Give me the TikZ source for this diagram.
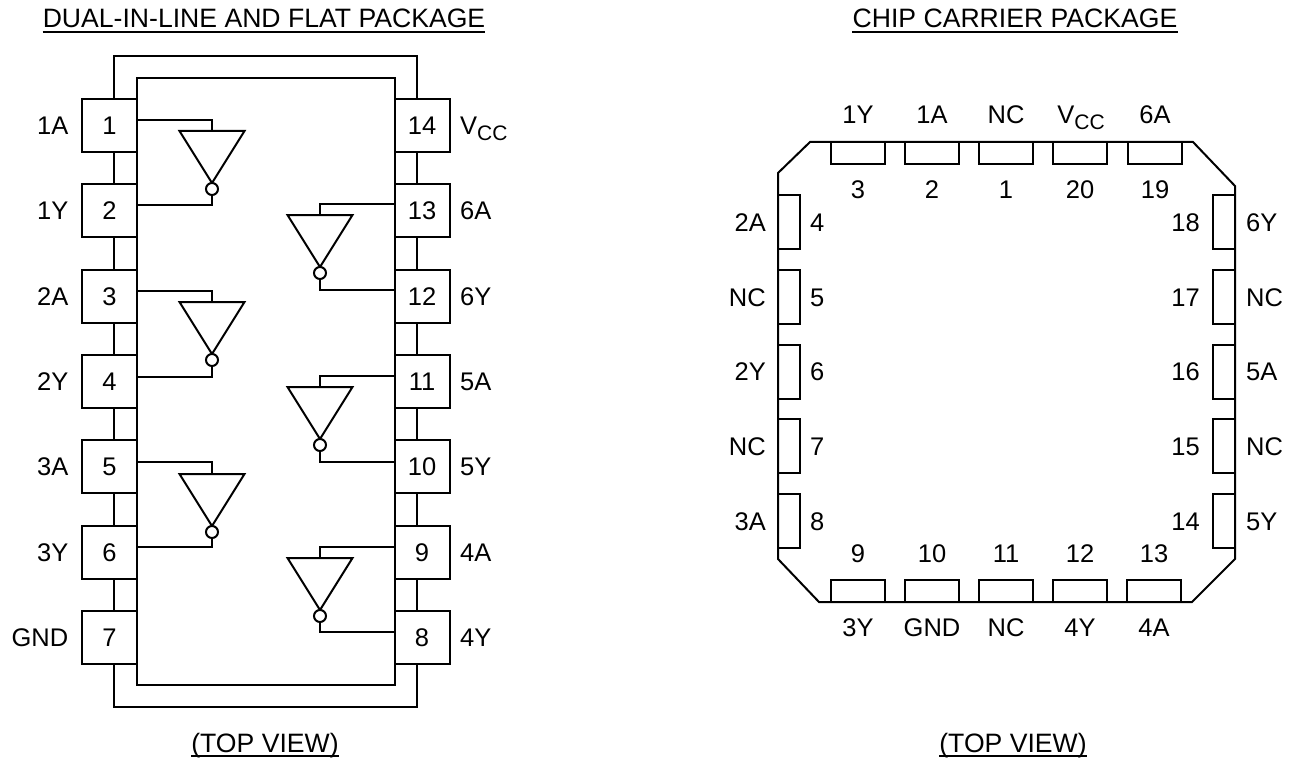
\documentclass[tikz,border=0pt]{standalone}
\usepackage{fontspec}
\setmainfont{Liberation Sans}
\newcommand{\lsize}{\fontsize{25.5}{27}\selectfont}
\newcommand{\tsize}{\fontsize{26.6}{28}\selectfont}
\newcommand{\vcc}{V\raisebox{-6pt}{\fontsize{21}{22}\selectfont CC}}
\tikzset{
  ln/.style={line width=2pt,black},
  lab/.style={font=\lsize,inner sep=0pt,text height=18.3pt,text depth=0pt},
  ttl/.style={font=\tsize,inner sep=0pt,text height=19pt,text depth=4pt,anchor=center},
  under/.style={line width=2.2pt},
  pin/.style={ln,draw,fill=white,font=\lsize,inner sep=0pt,minimum width=55pt,minimum height=53pt,text height=18.3pt,text depth=0pt},
  hpad/.style={ln,draw,inner sep=0pt,minimum width=54pt,minimum height=22pt},
  vpad/.style={ln,draw,inner sep=0pt,minimum width=22pt,minimum height=54pt},
  body/.style={ln,draw,inner sep=0pt,minimum width=258pt,minimum height=607pt},
  bub/.style={ln,draw,circle,fill=white,inner sep=0pt,minimum size=12pt},
}
\newcommand{\invgate}[6]{%
  \coordinate (#1tl) at (#2-32.5,#3);
  \coordinate (#1tr) at (#2+32.5,#3);
  \coordinate (#1ap) at (#2,#3+52);
  \coordinate (#1in) at (#2,#4);
  \coordinate (#1ou) at (#2,#5);
  \coordinate (#1top) at (#2,#3);
  \draw[ln,line join=miter] (#1tl) -- (#1tr) -- (#1ap) -- cycle;
  \node[bub] (#1b) at (#2,#3+58) {};
  \draw[ln] (#1top) -- (#1in) -- (#6.center |- #1in);
  \draw[ln] (#1b.south) -- (#1ou) -- (#6.center |- #1ou);
}
\begin{document}
\begin{tikzpicture}[x=1pt,y=-1pt]
\useasboundingbox (0,0) rectangle (1300,762);
\node[ttl] (t1) at (264,20.5) {DUAL-IN-LINE AND FLAT PACKAGE};
\node[ttl] (t2) at (1015,20.5) {CHIP CARRIER PACKAGE};
\node[ttl] (t3) at (265,744.5) {(TOP VIEW)};
\node[ttl] (t4) at (1013,744.5) {(TOP VIEW)};
\foreach \t in {t1,t2,t3,t4} \draw[under] (\t.south west) -- (\t.south east);
\node[body] (bd) at (266,381.5) {};
\coordinate (wt) at (114,56);
\coordinate (wb) at (114,707);
\foreach \n/\y in {1/125.5,2/210.8,3/296.2,4/381.5,5/466.8,6/552.2,7/637.5}
  \node[pin] (p\n) at (109.5,\y) {\n};
\foreach \n/\y in {14/125.5,13/210.8,12/296.2,11/381.5,10/466.8,9/552.2,8/637.5}
  \node[pin] (p\n) at (422,\y) {\n};
\foreach \a/\b in {1/2,2/3,3/4,4/5,5/6,6/7}
  \draw[ln] ([xshift=4.5pt]p\a.south) -- ([xshift=4.5pt]p\b.north);
\foreach \a/\b in {14/13,13/12,12/11,11/10,10/9,9/8}
  \draw[ln] ([xshift=-5pt]p\a.south) -- ([xshift=-5pt]p\b.north);
\draw[ln] ([xshift=4.5pt]p1.north) |- (wt) -| ([xshift=-5pt]p14.north);
\draw[ln] ([xshift=4.5pt]p7.south) |- (wb) -| ([xshift=-5pt]p8.south);
\coordinate (lw) at (137,0);
\coordinate (rw) at (395,0);
\invgate{a}{212}{131}{120}{205}{lw}
\invgate{b}{212}{302}{291}{377}{lw}
\invgate{c}{212}{474}{462}{547}{lw}
\invgate{d}{320}{215}{204}{290}{rw}
\invgate{e}{320}{387}{376}{462}{rw}
\invgate{f}{320}{558}{547}{632}{rw}
\foreach \s/\y in {1A/125.5,1Y/210.8,2A/296.2,2Y/381.5,3A/466.8,3Y/552.2,GND/637.5}
  \node[lab,anchor=east] (l\s) at (68.5,\y) {\s};
\foreach \s/\y in {6A/210.8,6Y/296.2,5A/381.5,5Y/466.8,4A/552.2,4Y/637.5}
  \node[lab,anchor=west] (r\s) at (460,\y) {\s};
\node[lab,anchor=west] (rvcc) at (460,125.5) {\vcc};
\draw[ln,line join=miter] (810,142) -- (1193,142) -- (1235,186) -- (1235,559) -- (1192,602) -- (819,602) -- (778,559) -- (778,173) -- cycle;
\foreach \n/\x/\s in {3/858/1Y,2/932/1A,1/1006/NC,19/1155/6A}
  \node[lab] (cl\n) at (\x,114) {\s};
\node[lab] (cl20) at (1081,114) {\vcc};
\foreach \n/\x in {3/858,2/932,1/1006,20/1080,19/1155}{
  \node[hpad] (c\n) at (\x,153) {};
  \node[lab] (cn\n) at (\x,189.5) {\n};
}
\foreach \n/\x/\s in {9/858/3Y,10/932/GND,11/1006/NC,12/1080/4Y,13/1154/4A}{
  \node[hpad] (c\n) at (\x,591) {};
  \node[lab] (cn\n) at (\x,553.5) {\n};
  \node[lab] (cl\n) at (\x,627) {\s};
}
\foreach \n/\y/\s in {4/222/2A,5/297/NC,6/371.5/2Y,7/446/NC,8/521/3A}{
  \node[vpad] (c\n) at (789,\y) {};
  \node[lab,anchor=west] (cn\n) at (810,\y) {\n};
  \node[lab,anchor=east] (cl\n) at (766,\y) {\s};
}
\foreach \n/\y/\s in {18/222/6Y,17/297/NC,16/371.5/5A,15/446/NC,14/521/5Y}{
  \node[vpad] (c\n) at (1224,\y) {};
  \node[lab,anchor=east] (cn\n) at (1200,\y) {\n};
  \node[lab,anchor=west] (cl\n) at (1246,\y) {\s};
}
\end{tikzpicture}
\end{document}
